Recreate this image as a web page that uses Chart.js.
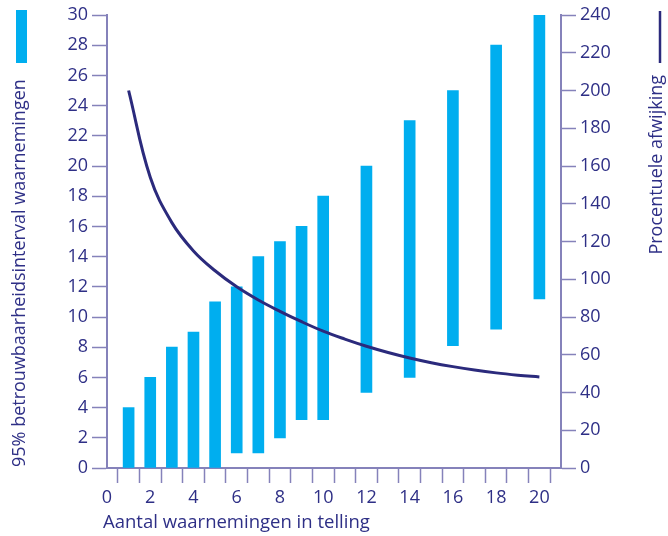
<!DOCTYPE html>
<html>
<head>
<meta charset="utf-8">
<script src="https://cdn.jsdelivr.net/npm/chart.js@4.4.1/dist/chart.umd.min.js"></script>
<style>
  html, body { margin: 0; padding: 0; background: #fff; }
  #wrap { width: 668px; height: 536px; position: relative; }
</style>
</head>
<body>
<div id="wrap"><canvas id="chart"></canvas></div>
<script>
// aantal waarnemingen waarvoor een interval is getekend
const counts = [1, 2, 3, 4, 5, 6, 7, 8, 9, 10, 12, 14, 16, 18, 20];
const intervalLow = [0, 0, 0, 0, 0, 1, 1, 2, 3.2, 3.2, 5, 6, 8.1, 9.2, 11.2];
const intervalHigh = [4, 6, 8, 9, 11, 12, 14, 15, 16, 18, 20, 23, 25, 28, 30];

// procentuele afwijking (rechteras)
const deviationX = [1, 2, 3, 4, 5, 6, 7, 8, 9, 10, 11, 12, 13, 14, 15, 16, 17, 18, 19, 20];
const deviationPct = [200, 154, 130, 115, 104.5, 96, 89, 83, 77.5, 72.5, 68.3, 64.5, 61.2, 58.3, 55.8, 53.7, 51.9, 50.4, 49.2, 48.2];

const barLabel = '95% betrouwbaarheidsinterval waarnemingen';
const lineLabel = 'Procentuele afwijking';
const xTitle = 'Aantal waarnemingen in telling';

const cyan = '#00aeef';
const navy = '#2b2a7c';
const textColor = '#2e2f86';
const axisColor = '#8582ba';
const fontFamily = '"Open Sans", "Noto Sans", sans-serif';

const intervals = counts.map((n, i) => ({ x: n, y: [intervalLow[i], intervalHigh[i]] }));
const deviation = deviationX.map((n, i) => ({ x: n, y: deviationPct[i] }));

// legenda's en x-titel zelf tekenen
const labelsPlugin = {
    id: 'labels',
    afterDraw(chart) {
        const ctx = chart.ctx;
        ctx.save();
        ctx.fillStyle = cyan;
        ctx.fillRect(16, 10, 11, 53);

        ctx.strokeStyle = navy;
        ctx.lineWidth = 2.5;
        ctx.beginPath();
        ctx.moveTo(660, 11);
        ctx.lineTo(660, 63);
        ctx.stroke();

        ctx.fillStyle = textColor;
        ctx.textBaseline = 'middle';

        ctx.font = '18px ' + fontFamily;
        ctx.save();
        ctx.translate(20, 467);
        ctx.rotate(-Math.PI / 2);
        ctx.textAlign = 'left';
        ctx.fillText(barLabel, 0, 0);
        ctx.restore();

        ctx.save();
        ctx.translate(657, 75);
        ctx.rotate(-Math.PI / 2);
        ctx.textAlign = 'right';
        ctx.fillText(lineLabel, 0, 0);
        ctx.restore();

        ctx.font = '18.5px ' + fontFamily;
        ctx.textAlign = 'left';
        ctx.fillText(xTitle, 103, 523);
        ctx.restore();
    }
};

const ctx = document.querySelector('#chart').getContext('2d');

const config = {
    data: {
        datasets: [
            {
                type: 'line',
                label: lineLabel,
                data: deviation,
                yAxisID: 'y2',
                borderColor: navy,
                borderWidth: 3,
                pointRadius: 0,
                tension: 0.4,
                fill: false,
            },
            {
                type: 'bar',
                label: barLabel,
                data: intervals,
                yAxisID: 'y',
                backgroundColor: cyan,
                borderWidth: 0,
                barThickness: 11,
                grouped: false,
            }
        ]
    },
    options: {
        responsive: true,
        maintainAspectRatio: false,
        animation: false,
        layout: { padding: { top: 15, left: 0, right: 0, bottom: 0 } },
        plugins: {
            legend: { display: false },
            tooltip: { enabled: false }
        },
        scales: {
            x: {
                type: 'linear',
                min: 0,
                max: 21,
                offset: false,
                afterFit: (scale) => { scale.height = 68; },
                ticks: {
                    stepSize: 1,
                    autoSkip: false,
                    maxRotation: 0,
                    padding: 4,
                    color: textColor,
                    font: { size: 18, family: fontFamily },
                    callback: (v) => (v % 2 === 0 && v <= 20 ? v : '')
                },
                grid: {
                    drawOnChartArea: false,
                    tickLength: 15,
                    tickWidth: 1.5,
                    tickColor: axisColor
                },
                border: { color: axisColor, width: 2 }
            },
            y: {
                position: 'left',
                min: 0,
                max: 30,
                afterFit: (scale) => { scale.width = 107; },
                ticks: {
                    stepSize: 2,
                    padding: 4,
                    color: textColor,
                    font: { size: 18, family: fontFamily }
                },
                grid: {
                    drawOnChartArea: false,
                    tickLength: 15,
                    tickWidth: 1.5,
                    tickColor: axisColor
                },
                border: { color: axisColor, width: 2 }
            },
            y2: {
                position: 'right',
                min: 0,
                max: 240,
                afterFit: (scale) => { scale.width = 107; },
                ticks: {
                    stepSize: 20,
                    padding: 4,
                    color: textColor,
                    font: { size: 18, family: fontFamily }
                },
                grid: {
                    drawOnChartArea: false,
                    tickLength: 15,
                    tickWidth: 1.5,
                    tickColor: axisColor
                },
                border: { color: axisColor, width: 2 }
            }
        }
    },
    plugins: [labelsPlugin]
};

const myChart = new Chart(ctx, config);
</script>
</body>
</html>
